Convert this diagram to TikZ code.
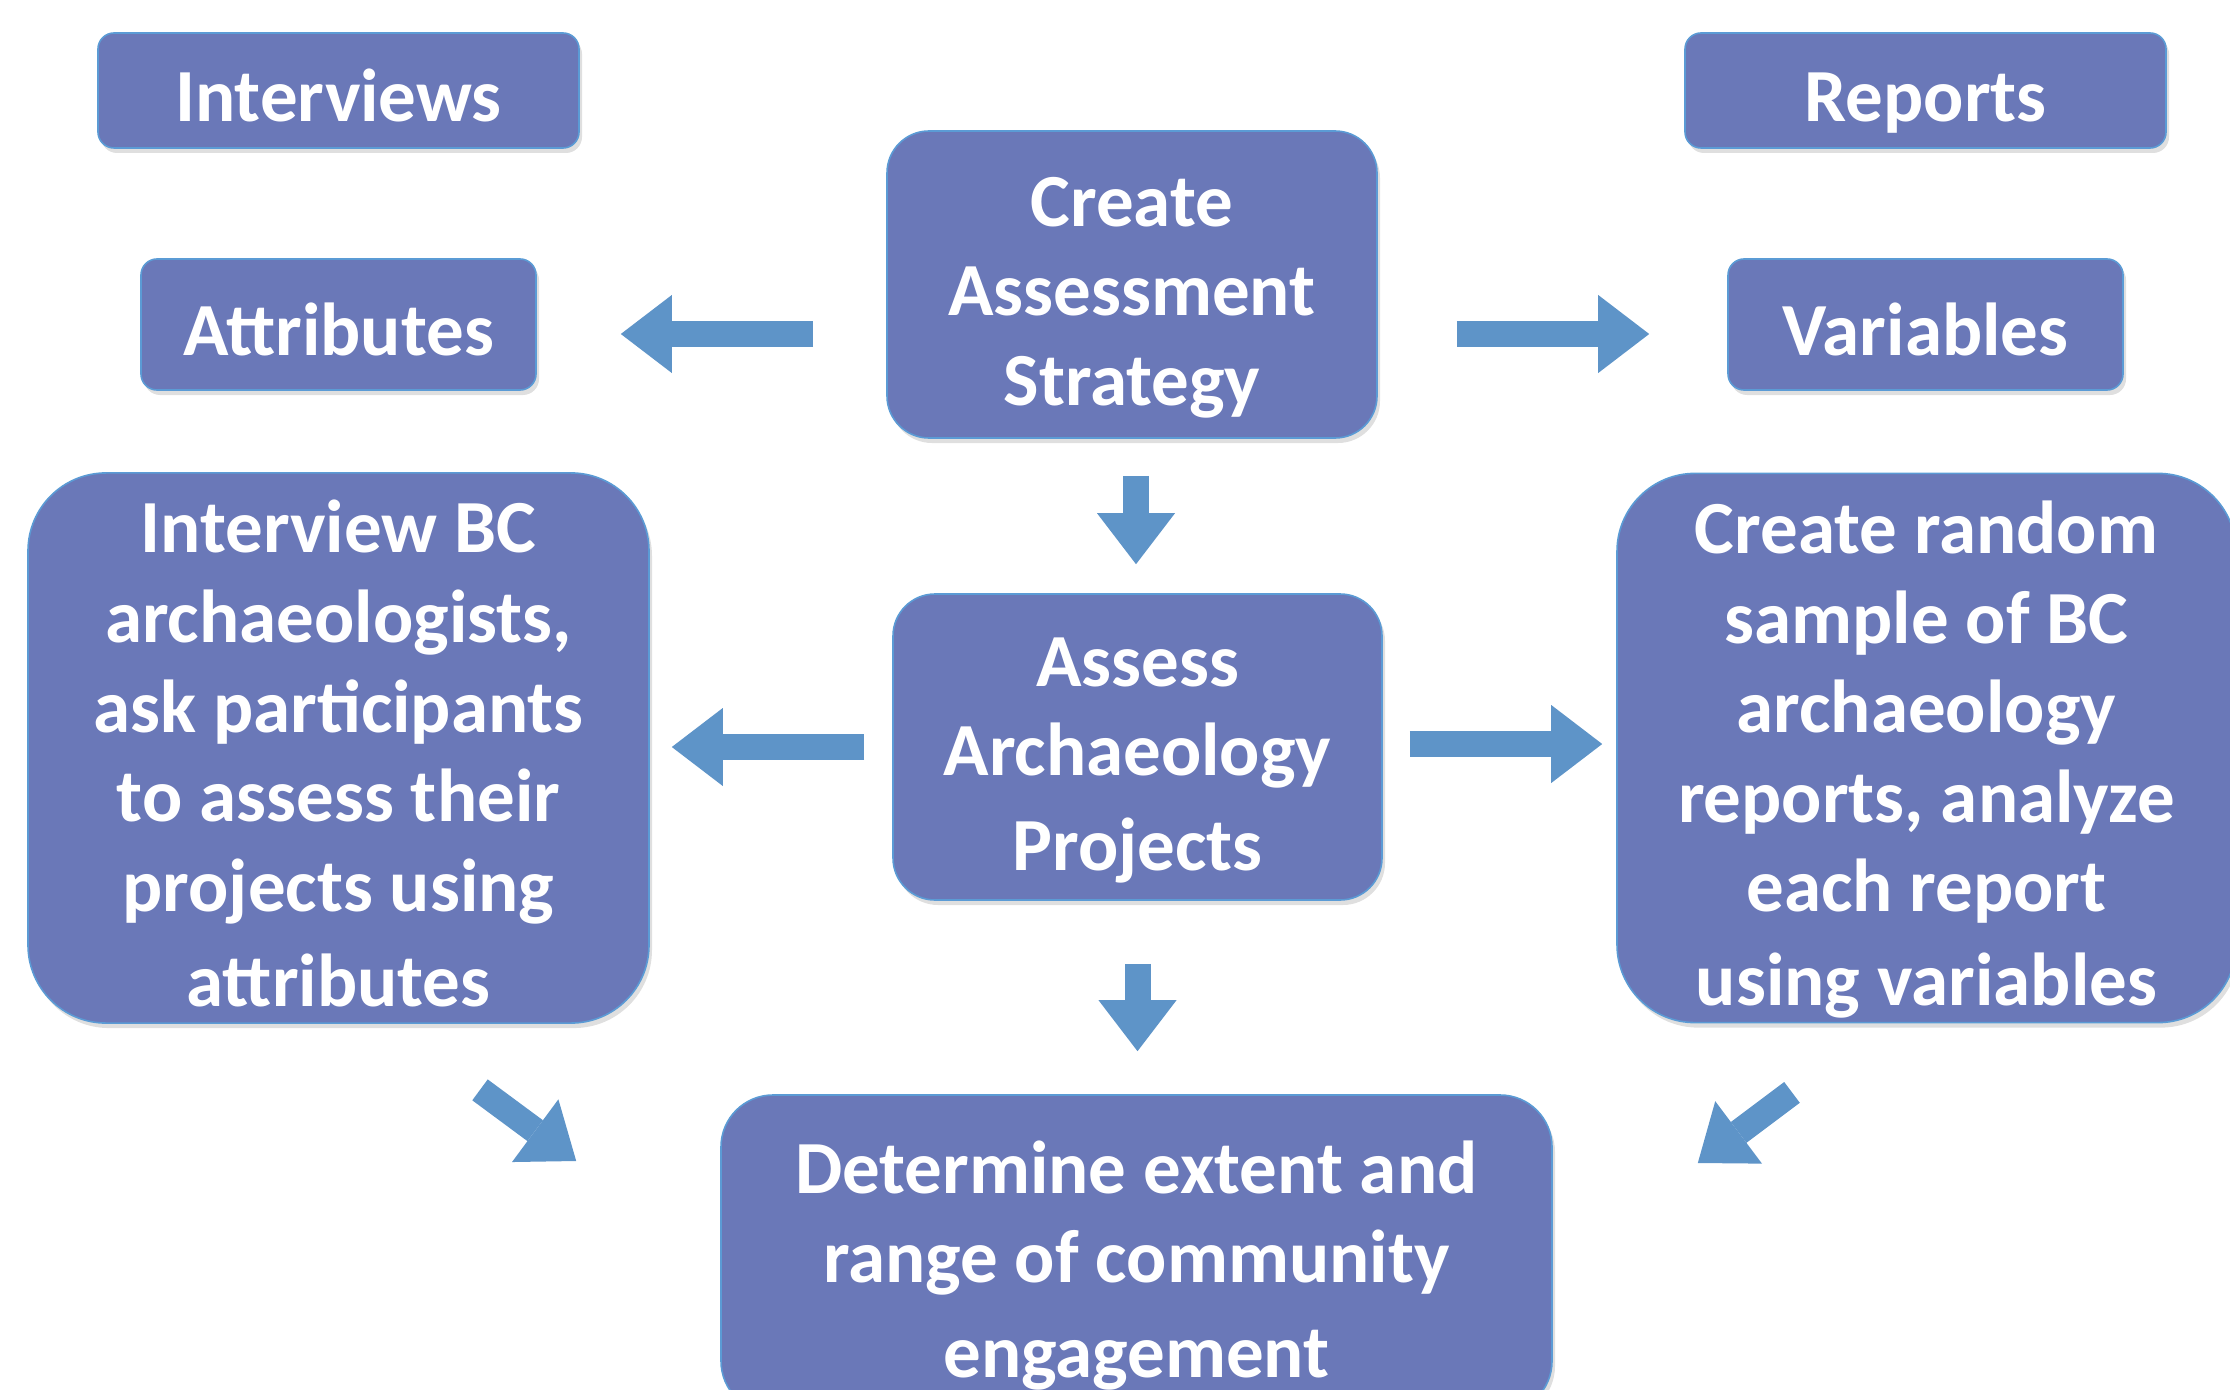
\documentclass[tikz,border=0pt]{standalone}
\usepackage{fontspec}
\setmainfont{Carlito}
\usetikzlibrary{arrows.meta,calc,shadows}

\definecolor{boxblue}{HTML}{6A78B8}
\definecolor{arrowblue}{HTML}{5E94C8}
\definecolor{edgeblue}{HTML}{5B9BD5}

% fixed first-line height and last-line depth, so every box sets its text alike
\newcommand{\ls}{\rule[-8.5pt]{0pt}{48.5pt}}

\tikzstyle{arrow} = [
        draw=arrowblue,
        line width=13pt,
        -{Triangle[width=39pt,length=25.5pt,line width=0pt]}
    ]
\tikzstyle{block} = [
        rectangle,
        rounded corners=8pt,
        align=center,
        inner ysep=0pt,
        text=white,
        draw=edgeblue,
        line width=0.8pt,
        fill=boxblue,
        font=\fontsize{37.5}{44.8}\selectfont\bfseries,
        drop shadow={shadow xshift=1.5pt, shadow yshift=-2.5pt, opacity=0.25}
    ]

\begin{document}
\begin{tikzpicture}[x=0.5pt, y=-0.5pt]
        \clip (0,0) rectangle (2230,1390);

        \node (interviews) [%
            block,%
            minimum width=240.5pt, minimum height=57.5pt
            ] at (338.5,90.5) {\ls Interviews\ls};

        \node (reports) [%
            block,%
            minimum width=240.5pt, minimum height=57.5pt
            ] at (1925.5,90.5) {\ls Reports\ls};

        \node (attributes) [%
            block,%
            minimum width=197.5pt, minimum height=65.5pt
            ] at (338.5,324.5) {\ls Attributes\ls};

        \node (variables) [%
            block,%
            minimum width=197.5pt, minimum height=65.5pt
            ] at (1925.5,324.5) {\ls Variables\ls};

        \node (strategy) [%
            block,%
            rounded corners=21pt,%
            minimum width=245pt, minimum height=153.5pt
            ] at (1132,284.5) {\ls Create\\Assessment\\Strategy\ls};

        \node (assess) [%
            block,%
            rounded corners=21pt,%
            minimum width=244.5pt, minimum height=153pt
            ] at (1137.5,747) {\ls Assess\\Archaeology\\Projects\ls};

        \node (interviewbc) [%
            block,%
            rounded corners=39pt,%
            minimum width=310.5pt, minimum height=273pt
            ] at (338.5,748) {\ls Interview BC\\archaeologists,\\ask participants\\to assess their\\projects using\\attributes\ls};

        \node (randomsample) [%
            block,%
            rounded corners=39pt,%
            minimum width=309.5pt, minimum height=273pt
            ] at (1926.5,748) {\ls Create random\\sample of BC\\archaeology\\reports, analyze\\each report\\using variables\ls};

        \node (determine) [%
            block,%
            rounded corners=26pt,%
            minimum width=415.5pt, minimum height=159pt
            ] at (1136.5,1254) {\ls Determine extent and\\range of community\\engagement\ls};

        \draw [arrow] ($(strategy.west)+(-73,49.5)$) -- ($(attributes.east)+(84,9.5)$);
        \draw [arrow] ($(strategy.east)+(79,49.5)$) -- ($(variables.west)+(-78,9.5)$);
        \draw [arrow] ($(strategy.south)+(4,37)$) -- ($(assess.north)+(-1.5,-29)$);
        \draw [arrow] ($(assess.west)+(-28,0)$) -- ($(interviewbc.east)+(22,-1)$);
        \draw [arrow] ($(assess.east)+(27,-3)$) -- ($(randomsample.west)+(-14,-4)$);
        \draw [arrow] ($(assess.south)+(0,63)$) -- ($(determine.north)+(1,-43)$);
        \draw [arrow] ($(interviewbc.south)+(141.5,66)$) -- ($(determine.west)+(-144,-93)$);
        \draw [arrow] ($(randomsample.south)+(-134.5,69)$) -- ($(determine.east)+(145,-91)$);

    \end{tikzpicture}
\end{document}
